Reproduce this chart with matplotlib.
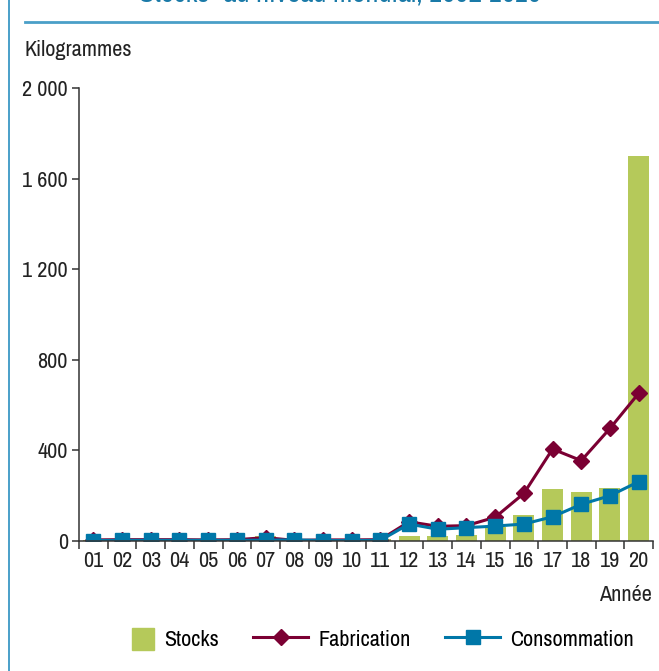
import matplotlib
matplotlib.use("Agg")
from matplotlib import pyplot as plt
import matplotlib.patches as mpatches
from matplotlib.legend_handler import HandlerPatch
from matplotlib.lines import Line2D
import numpy as np

# Data
# ===================================================================================================
years = ["01", "02", "03", "04", "05", "06", "07", "08", "09", "10",
         "11", "12", "13", "14", "15", "16", "17", "18", "19", "20"]
stocks = [3, 4, 4, 4, 4, 5, 20, 6, 4, 5, 8, 23, 23, 26, 60, 115, 228, 215, 235, 1700]
fabrication = [5, 6, 6, 6, 5, 6, 15, 3, 5, 5, 6, 85, 65, 68, 105, 210, 406, 355, 497, 652]
consommation = [2, 3, 3, 3, 3, 3, 4, 5, 2, 2, 3, 75, 52, 59, 66, 75, 107, 162, 200, 262]
y_ticks = [0, 400, 800, 1200, 1600, 2000]
y_labels = ["0", "400", "800", "1 200", "1 600", "2 000"]

# Style
# ===================================================================================================
plt.rcParams['font.family'] = ['Archivo Narrow', 'DejaVu Sans']
c_stock = '#b5c95a'
c_fab = '#7b0033'
c_cons = '#0077a8'
c_frame = '#2a8fc0'
c_text = '#222222'
fs = 16

fig = plt.figure(figsize=(6.59, 6.71), dpi=100)
ax = fig.add_axes([0.1199, 0.1937, 0.871, 0.6752])

x = np.arange(len(years))
ax.bar(x, stocks, width=0.73, color=c_stock, zorder=1)
ax.plot(x, fabrication, color=c_fab, lw=2.2, marker='D', ms=8, zorder=2)
ax.plot(x, consommation, color=c_cons, lw=2.2, marker='s', ms=10.5, zorder=3)

ax.set_xlim(-0.5, len(years) - 0.5)
ax.set_ylim(0, 2000)
ax.set_yticks(y_ticks)
ax.set_yticklabels(y_labels)
ax.set_xticks(x)
ax.set_xticklabels(years)
ax.set_xticks(np.arange(-0.5, len(years), 1), minor=True)
ax.tick_params(axis='x', which='major', length=0, labelsize=fs, colors=c_text, pad=7)
ax.tick_params(axis='x', which='minor', length=6, width=1.1, color='#333333', direction='out')
ax.tick_params(axis='y', length=5, width=1.1, color='#333333', labelsize=fs, labelcolor=c_text, pad=3)
for s in ['top', 'right']:
    ax.spines[s].set_visible(False)
for s in ['left', 'bottom']:
    ax.spines[s].set_color('#333333')
    ax.spines[s].set_linewidth(1.1)
ax.spines['bottom'].set_zorder(5)

fig.text(24 / 659, 1 - 50 / 671, "Kilogrammes", fontsize=fs, color=c_text, va='center', ha='left')
fig.text(652 / 659, 1 - 595 / 671, "Année", fontsize=fs, color=c_text, va='center', ha='right')

# Frame decorations and cut-off title
# ===================================================================================================
fig.add_artist(Line2D([9 / 659, 9 / 659], [0, 1], color=c_frame, lw=1.2))
fig.add_artist(Line2D([25 / 659, 1], [1 - 22 / 671, 1 - 22 / 671], color='#4a9fc8', lw=2))
fig.text(340 / 659, 1 - 1.5 / 671, "Stocks\u201d au niveau mondial, 2001-2020", fontsize=20.5,
         fontweight='bold', color='#1a7aa8', ha='center', va='baseline')

# Legend
# ===================================================================================================
def square_patch(legend, orig_handle, xdescent, ydescent, width, height, fontsize):
    # square sitting at the right end of the handle box
    return mpatches.Rectangle((width - height - xdescent, -ydescent), height, height)

h_stock = mpatches.Patch(color=c_stock, label="Stocks")
h_fab = Line2D([], [], color=c_fab, lw=2.2, marker='D', ms=8, label="Fabrication")
h_cons = Line2D([], [], color=c_cons, lw=2.2, marker='s', ms=10.5, label="Consommation")
fig.legend(handles=[h_stock, h_fab, h_cons], loc='center', bbox_to_anchor=(0.556, 1 - 639 / 671),
           ncol=3, frameon=False, fontsize=fs, handlelength=2.48, handleheight=1.13,
           columnspacing=1.55, handletextpad=0.45,
           handler_map={mpatches.Patch: HandlerPatch(patch_func=square_patch)})

plt.savefig("out.png", dpi=100)
